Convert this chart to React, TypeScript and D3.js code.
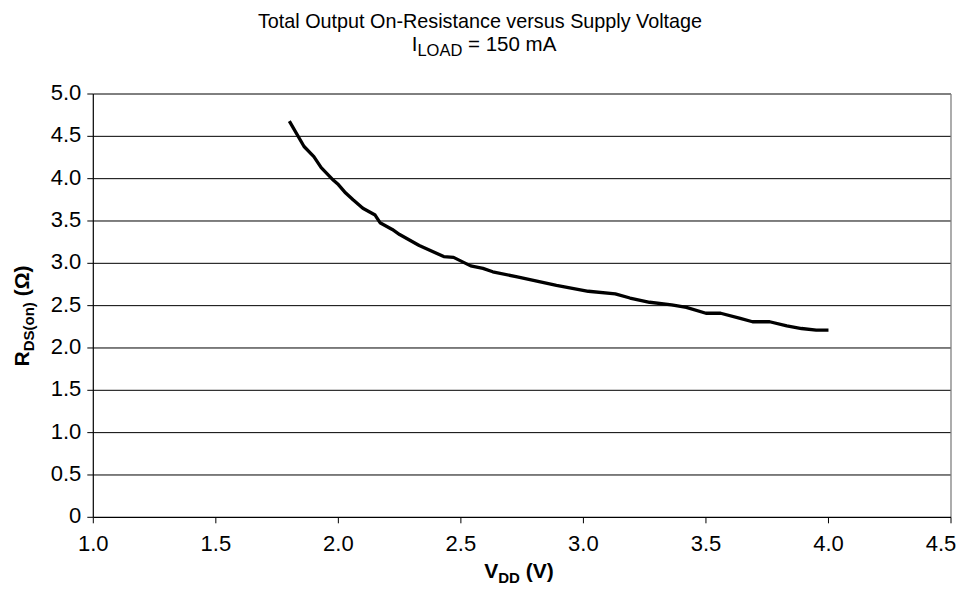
import React from "react";
import * as d3 from "d3";

const vdd = [1.80, 1.86, 1.90, 1.93, 1.98, 2.00, 2.03, 2.06, 2.10, 2.15, 2.17, 2.22, 2.25, 2.33, 2.43, 2.47, 2.54, 2.59, 2.63, 2.73, 2.81, 2.89, 3.02, 3.13, 3.19, 3.27, 3.36, 3.42, 3.50, 3.56, 3.64, 3.69, 3.76, 3.83, 3.89, 3.95, 4.00];
const rds = [4.68, 4.38, 4.26, 4.13, 3.98, 3.93, 3.83, 3.75, 3.65, 3.57, 3.48, 3.40, 3.34, 3.21, 3.08, 3.07, 2.97, 2.94, 2.90, 2.84, 2.79, 2.74, 2.67, 2.64, 2.59, 2.54, 2.51, 2.48, 2.41, 2.41, 2.35, 2.31, 2.31, 2.26, 2.23, 2.21, 2.21];
const xTicks = [1.0, 1.5, 2.0, 2.5, 3.0, 3.5, 4.0, 4.5];
const yTicks = [0, 0.5, 1.0, 1.5, 2.0, 2.5, 3.0, 3.5, 4.0, 4.5, 5.0];

const W = 961, H = 605;
const M = { left: 93.3, right: 951, top: 94, bottom: 517.3 };
const FONT = "'Liberation Sans', Arial, Helvetica, sans-serif";

export default function App() {
  const x = d3.scaleLinear().domain([1.0, 4.5]).range([M.left, M.right]);
  const y = d3.scaleLinear().domain([0, 5.0]).range([M.bottom, M.top]);
  const pts: [number, number][] = vdd.map((v, i) => [v, rds[i]]);
  const line = d3.line<[number, number]>().x(d => x(d[0])).y(d => y(d[1]));
  const fmt = (v: number) => (v === 0 ? "0" : v.toFixed(1));

  return (
    <svg width={W} height={H} style={{ position: "absolute", left: 0, top: 0, background: "#fff" }} fontFamily={FONT}>
      <rect x={0} y={0} width={W} height={H} fill="#fff" />
      {/* title */}
      <text x={480} y={28} textAnchor="middle" fontSize={19.8} fill="#000">Total Output On-Resistance versus Supply Voltage</text>
      <text x={484} y={51} textAnchor="middle" fontSize={20.5} fill="#000">
        I<tspan fontSize={16.5} dy={5}>LOAD</tspan><tspan dy={-5}> = 150 mA</tspan>
      </text>
      {/* gridlines */}
      {yTicks.filter(t => t > 0).map(t => (
        <line key={"g" + t} x1={M.left} x2={M.right} y1={y(t)} y2={y(t)} stroke="#000" strokeWidth={1} />
      ))}
      {/* right border */}
      <line x1={M.right} x2={M.right} y1={M.top} y2={M.bottom} stroke="#808080" strokeWidth={1.3} />
      {/* axes */}
      <line x1={M.left} x2={M.left} y1={M.top} y2={M.bottom} stroke="#000" strokeWidth={1.2} />
      <line x1={M.left} x2={M.right} y1={M.bottom} y2={M.bottom} stroke="#000" strokeWidth={1.2} />
      {yTicks.map(t => (
        <g key={"y" + t}>
          <line x1={M.left - 6} x2={M.left} y1={y(t)} y2={y(t)} stroke="#000" strokeWidth={1} />
          <text x={M.left - 12} y={y(t) + 6} textAnchor="end" fontSize={22} fill="#000">{fmt(t)}</text>
        </g>
      ))}
      {xTicks.map((t) => {
        const px = x(t);
        const tx = Math.min(px, W - 20);
        return (
          <g key={"x" + t}>
            <line x1={px} x2={px} y1={M.bottom} y2={M.bottom + 6} stroke="#000" strokeWidth={1} />
            <text x={tx} y={551} textAnchor="middle" fontSize={22} fill="#000">{fmt(t)}</text>
          </g>
        );
      })}
      {/* curve */}
      <path d={line(pts) || ""} fill="none" stroke="#000" strokeWidth={3.3} strokeLinejoin="round" />
      {/* axis titles */}
      <text x={519} y={578} textAnchor="middle" fontSize={21} fontWeight="bold" fill="#000">
        V<tspan fontSize={15} dy={5}>DD</tspan><tspan dy={-5}> (V)</tspan>
      </text>
      <text transform={`translate(29,${316}) rotate(-90)`} textAnchor="middle" fontSize={21} fontWeight="bold" fill="#000">
        R<tspan fontSize={15} dy={5}>DS(on)</tspan><tspan dy={-5}> (Ω)</tspan>
      </text>
    </svg>
  );
}
